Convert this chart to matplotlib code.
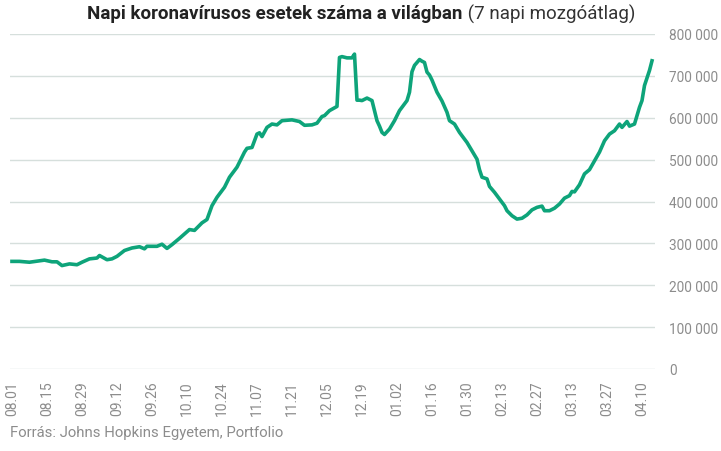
import matplotlib
matplotlib.use("Agg")
import matplotlib.pyplot as plt
import matplotlib.dates as mdates
import numpy as np
import pandas as pd

dates = ["2020-08-01","2020-08-04","2020-08-08","2020-08-14","2020-08-17","2020-08-19","2020-08-21",
"2020-08-24","2020-08-27","2020-08-29","2020-09-01","2020-09-04","2020-09-05","2020-09-08","2020-09-10",
"2020-09-12","2020-09-15","2020-09-18","2020-09-21","2020-09-23","2020-09-24","2020-09-28","2020-09-30",
"2020-10-02","2020-10-04","2020-10-07","2020-10-11","2020-10-13","2020-10-16","2020-10-18","2020-10-20",
"2020-10-22","2020-10-25","2020-10-27","2020-10-30","2020-10-31","2020-11-02","2020-11-03","2020-11-05",
"2020-11-07","2020-11-08","2020-11-09","2020-11-11","2020-11-13","2020-11-15","2020-11-17","2020-11-21",
"2020-11-24","2020-11-26","2020-11-29","2020-12-01","2020-12-03","2020-12-04","2020-12-06","2020-12-09",
"2020-12-10","2020-12-11","2020-12-13","2020-12-15","2020-12-16","2020-12-17","2020-12-18","2020-12-19",
"2020-12-21","2020-12-23","2020-12-24","2020-12-25","2020-12-26","2020-12-27","2020-12-28","2020-12-30",
"2021-01-01","2021-01-03","2021-01-06","2021-01-07","2021-01-08","2021-01-09","2021-01-11","2021-01-12",
"2021-01-13","2021-01-14","2021-01-15","2021-01-16","2021-01-18","2021-01-20","2021-01-22","2021-01-23",
"2021-01-25","2021-01-27","2021-01-30","2021-02-01","2021-02-03","2021-02-04","2021-02-05","2021-02-07",
"2021-02-08","2021-02-10","2021-02-12","2021-02-14","2021-02-15","2021-02-17","2021-02-19","2021-02-21",
"2021-02-23","2021-02-25","2021-02-27","2021-03-01","2021-03-02","2021-03-04","2021-03-06","2021-03-08",
"2021-03-10","2021-03-12","2021-03-13","2021-03-14","2021-03-16","2021-03-18","2021-03-20","2021-03-22",
"2021-03-24","2021-03-26","2021-03-28","2021-03-30","2021-04-01","2021-04-02","2021-04-04","2021-04-05",
"2021-04-07","2021-04-09","2021-04-10","2021-04-11","2021-04-13","2021-04-14"]

cases_k = [257,257,255,260,256,256,247,
251,249,255,263,265,271,261,263,
269,283,289,292,287,293,293,298,
288,297,312,333,331,349,357,390,
410,434,458,482,494,518,527,529,
561,564,555,577,585,583,593,595,
591,582,583,587,603,605,617,627,
744,746,743,743,752,642,642,641,
647,641,617,593,580,565,560,573,
593,617,641,661,710,725,739,735,
732,709,702,690,661,640,613,593,
585,565,541,521,501,476,458,454,
436,422,406,390,378,366,358,360,
368,380,386,389,378,378,384,394,
408,414,424,423,440,466,476,497,
518,545,561,569,585,577,591,580,
585,625,641,677,713,736]

tick_dates = pd.date_range("2020-08-01", "2021-04-10", freq="14D")
y_ticks = [0,100000,200000,300000,400000,500000,600000,700000,800000]
y_labels = ["0","100 000","200 000","300 000","400 000","500 000","600 000","700 000","800 000"]

title_bold = "Napi koronavírusos esetek száma a világban"
title_rest = " (7 napi mozgóátlag)"
source = "Forrás: Johns Hopkins Egyetem, Portfolio"

plt.rcParams['font.family'] = ['Roboto', 'DejaVu Sans']

W, H = 721, 452
fig = plt.figure(figsize=(W/100, H/100), dpi=100)
ax = fig.add_axes([10/W, (H-370)/H, (655-10)/W, 335/H])

x = pd.to_datetime(dates)
y = np.array(cases_k) * 1000
ax.plot(x, y, color="#0ea47a", lw=2.6, solid_joinstyle="round", clip_on=False, zorder=3)

start = pd.Timestamp("2020-08-01")
ax.set_xlim(start - pd.Timedelta(hours=19), start + pd.Timedelta(days=257.2))
ax.set_ylim(0, 800000)

ax.set_yticks(y_ticks)
ax.set_yticklabels(y_labels)
ax.yaxis.tick_right()
ax.tick_params(axis="y", length=0, pad=10, labelsize=9.8, labelcolor="#8c8c8c")
ax.grid(axis="y", color="#d6dfdc", lw=1)
ax.set_axisbelow(True)

ax.set_xticks(tick_dates)
ax.set_xticklabels([d.strftime("%m.%d") for d in tick_dates], rotation=90)
ax.tick_params(axis="x", length=0, pad=8, labelsize=10, labelcolor="#8c8c8c")
for lab in ax.get_xticklabels():
    lab.set_verticalalignment("top")

for s in ax.spines.values():
    s.set_visible(False)

fig.text(10/W, 1-433/H, source, fontsize=10.7, color="#8c8c8c", va="center", ha="left")

t1 = fig.text(0, 1-14/H, title_bold, fontsize=13.5, weight="bold", color="#222222", va="center", ha="left")
t2 = fig.text(0, 1-14/H, title_rest, fontsize=13.5, color="#333333", va="center", ha="left")
fig.canvas.draw()
r = fig.canvas.get_renderer()
w1 = t1.get_window_extent(r).width
w2 = t2.get_window_extent(r).width
x0 = 361 - (w1 + w2) / 2
t1.set_x(x0 / W)
t2.set_x((x0 + w1) / W)

fig.savefig("out.png", dpi=100)
